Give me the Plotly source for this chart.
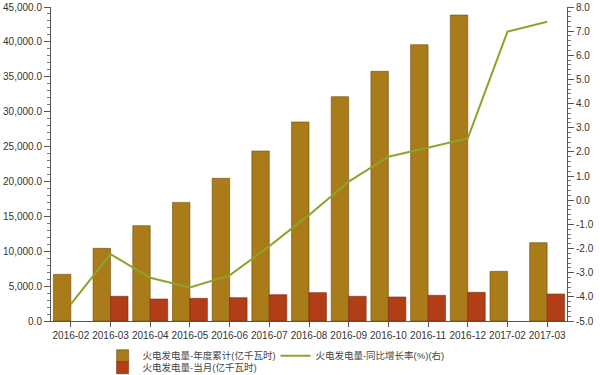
import plotly.graph_objects as go

categories = ["2016-02", "2016-03", "2016-04", "2016-05", "2016-06", "2016-07",
              "2016-08", "2016-09", "2016-10", "2016-11", "2016-12", "2017-02", "2017-03"]
cumulative = [6690, 10415, 13660, 17000, 20450, 24360, 28520, 32150, 35780, 39600, 43850, 7120, 11230]
monthly = [None, 3540, 3150, 3250, 3340, 3770, 4060, 3540, 3440, 3680, 4110, None, 3870]
growth = [-4.30, -2.23, -3.21, -3.61, -3.11, -1.90, -0.61, 0.77, 1.80, 2.18, 2.56, 6.98, 7.39]

right_tick_vals = [8, 7, 6, 5, 4, 3, 2, 1, 0, -1, -2, -3, -4, -5]
right_tick_text = ["8.0", "7.0", "6.0", "5.0", "4.0", "3.0", "2.0", "1.0", "0.0",
                   "-1.0", "-2.0", "-3.0", "-4.0", "-5.0"]

name_cum = "火电发电量-年度累计(亿千瓦时)"
name_growth = "火电发电量-同比增长率(%)(右)"
name_month = "火电发电量-当月(亿千瓦时)"

font_family = "Liberation Sans, Arial, Noto Sans CJK SC, sans-serif"

fig = go.Figure()
fig.add_trace(go.Bar(x=categories, y=cumulative, name=name_cum, legend="legend",
                     marker=dict(color="#A97B19", line=dict(color="#6E4F0E", width=0.6))))
fig.add_trace(go.Scatter(x=categories, y=growth, name=name_growth, yaxis="y2", legend="legend3",
                         mode="lines", line=dict(color="#8BA52C", width=2)))
fig.add_trace(go.Bar(x=categories, y=monthly, name=name_month, legend="legend2",
                     marker=dict(color="#B23E18", line=dict(color="#7A2A0E", width=0.6))))

legend_common = dict(orientation="h", xanchor="left", yref="container", yanchor="top",
                     font=dict(size=9.5, color="#444444"), traceorder="normal",
                     tracegroupgap=0, itemwidth=30, bgcolor="rgba(0,0,0,0)")

fig.update_layout(
    width=600, height=375,
    margin=dict(l=51, r=33, t=7, b=54, autoexpand=False),
    paper_bgcolor="white", plot_bgcolor="white",
    font=dict(family=font_family, size=10, color="#333333"),
    barmode="group", bargap=0.12, bargroupgap=0.0,
    showlegend=True,
    legend=dict(x=0.10, y=0.09, **legend_common),
    legend3=dict(x=0.435, y=0.09, **legend_common),
    legend2=dict(x=0.10, y=0.058, **legend_common),
    xaxis=dict(type="category", showgrid=False, showline=True, linecolor="#555555",
               linewidth=1, ticks="outside", ticklen=5, tickcolor="#555555",
               tickangle=0, automargin=False,
               tickfont=dict(size=10, color="#333333"), zeroline=False),
    yaxis=dict(range=[0, 45000], dtick=5000, tickformat=",.1f", showgrid=False,
               showline=True, linecolor="#555555", linewidth=1, ticks="outside",
               ticklen=6, tickcolor="#555555", zeroline=False, automargin=False,
               minor=dict(dtick=1000, ticks="outside", ticklen=3, tickcolor="#777777"),
               tickfont=dict(size=10, color="#333333")),
    yaxis2=dict(range=[-5, 8], tickvals=right_tick_vals, ticktext=right_tick_text,
                overlaying="y", side="right", automargin=False,
                showgrid=False, showline=True, linecolor="#555555", linewidth=1,
                ticks="outside", ticklen=6, tickcolor="#555555", zeroline=False,
                minor=dict(dtick=0.2, ticks="outside", ticklen=3, tickcolor="#777777"),
                tickfont=dict(size=10, color="#333333")),
)

fig.write_html("out.html", config={"displayModeBar": False},
               post_script="document.body.style.margin='0';document.body.style.overflow='hidden';")
